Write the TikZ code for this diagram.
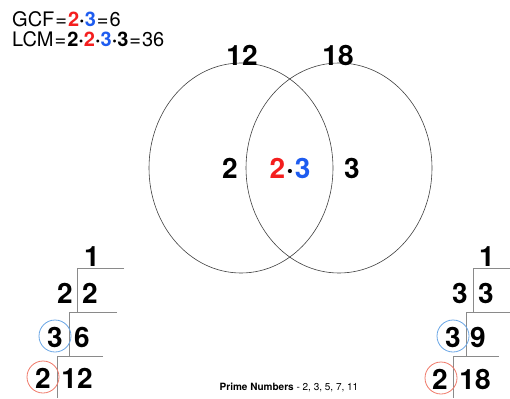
\documentclass[tikz,border=0pt]{standalone}
\usepackage{fontspec}
\setmainfont{TeX Gyre Heros}
\definecolor{myred}{HTML}{F41E1E}
\definecolor{myblue}{HTML}{1E5CF0}
\definecolor{ringred}{HTML}{F07A6A}
\definecolor{ringblue}{HTML}{6AA6E6}
\definecolor{linegray}{HTML}{8A8A8A}
\begin{document}
\begin{tikzpicture}[x=1pt,y=-1pt,
  big/.style={inner sep=0pt,font=\fontsize{28}{28}\selectfont\bfseries},
  eq/.style={inner sep=0pt,anchor=base west,font=\fontsize{20}{20}\selectfont},
  venn/.style={draw=black!75,line width=0.6pt},
  ladder/.style={draw=linegray,line width=0.8pt},
  redring/.style={draw=ringred,line width=0.8pt,circle,minimum size=32pt,inner sep=0pt},
  bluering/.style={draw=ringblue,line width=0.8pt,circle,minimum size=32pt,inner sep=0pt}]
\useasboundingbox (0,0) rectangle (510,398);
\fill[white] (0,0) rectangle (510,398);
% top equations
\node[eq] (gcf) at (12,27) {GCF\kern1pt=\kern1pt\textbf{\textcolor{myred}{2}·\textcolor{myblue}{3}}\kern1pt=\kern1pt6};
\node[eq] (lcm) at (12,47) {LCM\kern1pt=\kern1pt\textbf{2·\textcolor{myred}{2}·\textcolor{myblue}{3}·3}\kern1pt=\kern1pt36};
% venn
\draw[venn] (241,168) ellipse [x radius=92, y radius=105];
\draw[venn] (339,168) ellipse [x radius=93, y radius=105];
\node[big] (l12) at (242,55) {12};
\node[big] (l18) at (338,55) {18};
\node[big] (onlyA) at (230,168) {2};
\node[big] (both) at (290,168) {\textcolor{myred}{2}\kern1pt·\kern1pt\textcolor{myblue}{3}};
\node[big] (onlyB) at (352,168) {3};
% left ladder
\draw[ladder] (124,268) -- (77,268) -- (77,312);
\draw[ladder] (117,312) -- (69,312) -- (69,356);
\draw[ladder] (103,356) -- (57,356) -- (57,398);
\node[big] (a1) at (92,257) {1};
\node[big] (a2l) at (65,293) {2};
\node[big] (a2r) at (90,293) {2};
\node[big] (a3l) at (55,337) {3};
\node[big] (a6) at (82,337) {6};
\node[big] (a2b) at (43,378) {2};
\node[big] (a12) at (77,378) {12};
\node[bluering] (ca) at (55,336) {};
\node[redring] (cb) at (43,377) {};
% right ladder
\draw[ladder] (510,268) -- (473,268) -- (473,312);
\draw[ladder] (510,312) -- (466,312) -- (466,356);
\draw[ladder] (499,356) -- (453,356) -- (453,398);
\node[big] (b1) at (487,257) {1};
\node[big] (b3l) at (460,293) {3};
\node[big] (b3r) at (486,293) {3};
\node[big] (b3b) at (453,337) {3};
\node[big] (b9) at (478,337) {9};
\node[big] (b2) at (440,379) {2};
\node[big] (b18) at (475,379) {18};
\node[bluering] (cc) at (453,336) {};
\node[redring] (cd) at (441,378) {};
% prime numbers
\node[inner sep=0pt,font=\fontsize{10}{10}\selectfont] (primes) at (289,388) {\textbf{Prime Numbers} - 2, 3, 5, 7, 11};
\end{tikzpicture}
\end{document}
